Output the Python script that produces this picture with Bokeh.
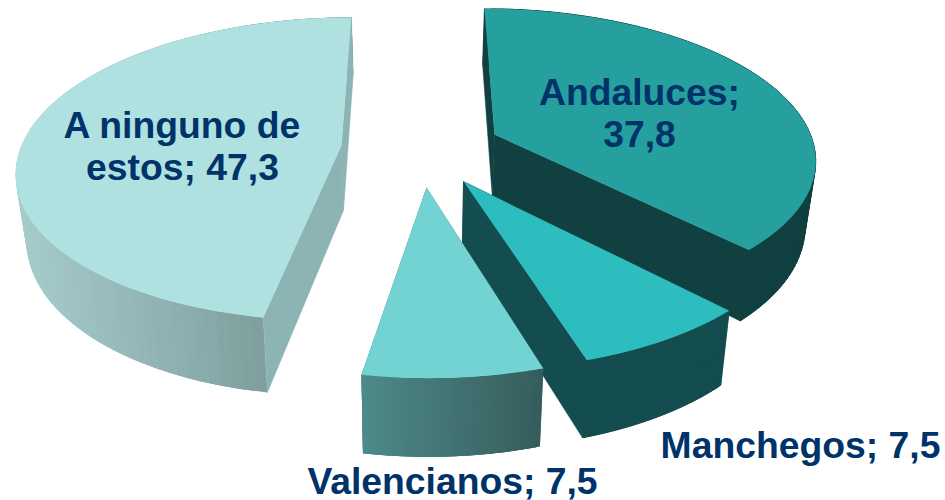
import math
from bokeh.plotting import figure
from bokeh.models import Range1d
from bokeh.core.properties import value
from bokeh.embed import file_html
from bokeh.resources import INLINE

# data
categories = ["Andaluces", "Manchegos", "Valencianos", "A ninguno de estos"]
values = [37.8, 7.5, 7.5, 47.3]
labels = ["Andaluces;\n37,8", "Manchegos; 7,5", "Valencianos; 7,5", "A ninguno de\nestos; 47,3"]

# exploded-slice projection: apex, semi-axes, perspective, lean
geometry = {
    "Andaluces": dict(cx=494, cy=134, a=316, b=144, k=.145, lean=-11.5),
    "Manchegos": dict(cx=463, cy=181, a=333, b=161, k=.145, lean=-9),
    "Valencianos": dict(cx=426, cy=187, a=336, b=163, k=.145, lean=-2),
    "A ninguno de estos": dict(cx=341, cy=145, a=320, b=148, k=.155, lean=11.5),
}
style = {
    "Andaluces": dict(top="#26A09F", cut="#104040", side=("#104040", "#104040")),
    "Manchegos": dict(top="#2DBDBF", cut="#144D4F", side=("#144D4F", "#144D4F")),
    "Valencianos": dict(top="#72D3D2", cut="#3F6E6D", side=("#4D8A88", "#365C5C")),
    "A ninguno de estos": dict(top="#B0E1E1", cut="#8DB4B5", side=("#A6CBCB", "#6F8C8C")),
}
label_pos = {
    "Andaluces": (639, 112), "Manchegos": (800, 444),
    "Valencianos": (452, 480), "A ninguno de estos": (182, 145),
}


def project(g, deg):
    t = math.radians(deg)
    s = 1 / (1 + g["k"] * math.cos(t))
    return (g["cx"] + (g["a"] * math.sin(t) + g["lean"] * math.cos(t)) * s,
            g["cy"] - g["b"] * math.cos(t) * s)


def drop(pt):
    return (pt[0] + (417 - pt[0]) * 0.027, pt[1] + 56 + 0.06 * pt[1])


def mix(c1, c2, f):
    v1 = [int(c1[i:i + 2], 16) for i in (1, 3, 5)]
    v2 = [int(c2[i:i + 2], 16) for i in (1, 3, 5)]
    return "#%02x%02x%02x" % tuple(round(a + (b - a) * f) for a, b in zip(v1, v2))


xs, ys, colors, line_alphas = [], [], [], []


def add(points, color, stroke=0.0):
    xs.append([q[0] for q in points])
    ys.append([q[1] for q in points])
    colors.append(color)
    line_alphas.append(stroke)


total = sum(values)
start = 0.0
spans = {}
for name, v in zip(categories, values):
    spans[name] = (start, start + v / total * 360)
    start += v / total * 360

for name in ["A ninguno de estos", "Andaluces", "Manchegos", "Valencianos"]:
    g, st = geometry[name], style[name]
    a0, a1 = spans[name]
    apex = (g["cx"], g["cy"])
    n = 90
    arc = [project(g, a0 + (a1 - a0) * i / n) for i in range(n + 1)]
    cuts = [[apex, edge, drop(edge), drop(apex)] for edge in (arc[0], arc[-1])]
    flat = st["side"][0] == st["side"][1]
    cuts_last = name == "A ninguno de estos"
    if not cuts_last:
        for c in cuts:
            add(c, st["cut"], 1.0 if flat else 0.0)
    # outer wall: overlapping strips, shaded across the width
    xmin, xmax = min(q[0] for q in arc), max(q[0] for q in arc)
    for i in range(n):
        j = min(i + 3, n)
        f = ((arc[i][0] + arc[j][0]) / 2 - xmin) / max(xmax - xmin, 1)
        add([arc[i], arc[j], drop(arc[j]), drop(arc[i])], mix(st["side"][0], st["side"][1], f),
            1.0 if flat else 0.0)
    if cuts_last:
        for c in cuts:
            add(c, st["cut"], 1.0)
    # top
    add([apex] + arc, st["top"])

p = figure(width=945, height=500, output_backend="svg", toolbar_location=None,
           x_range=Range1d(0, 945), y_range=Range1d(500, 0), min_border=0)
p.styles = {"position": "absolute", "left": "0px", "top": "0px"}
p.axis.visible = False
p.grid.visible = False
p.outline_line_color = None
p.patches(xs, ys, fill_color=colors, line_color=colors, line_alpha=line_alphas, line_width=0.5)
p.text([label_pos[c][0] for c in categories], [label_pos[c][1] for c in categories], text=labels,
       text_font=value("Liberation Sans"), text_font_style="bold", text_font_size="37.3px",
       text_color="#00336A", text_align="center", text_baseline="middle", text_line_height=1.0)

open("out.html", "w").write(file_html(p, INLINE))
